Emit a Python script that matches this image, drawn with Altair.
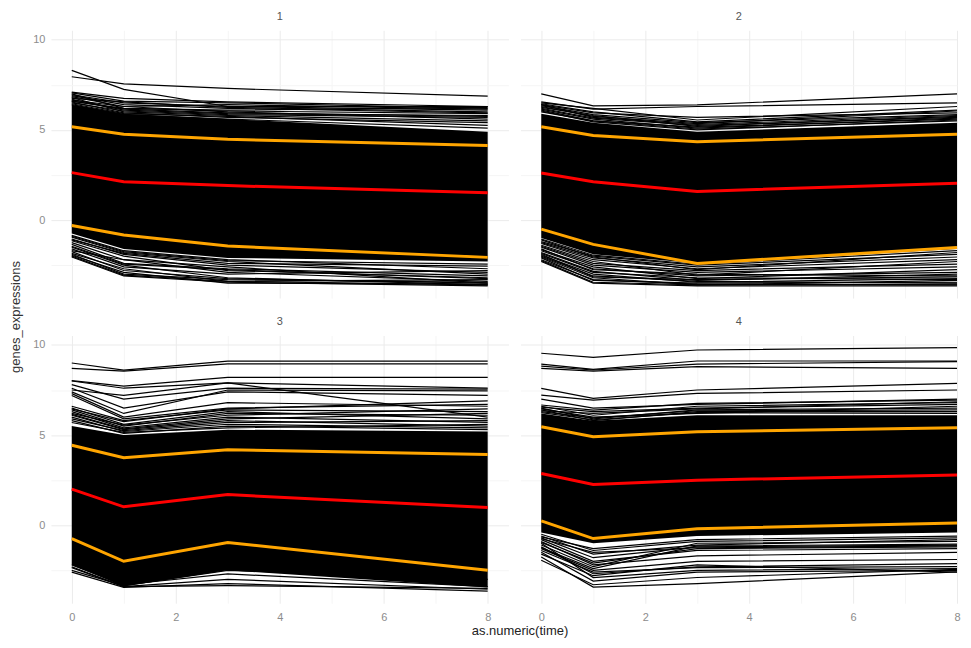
import altair as alt
import pandas as pd

times = [0, 1, 3, 8]

# ---- panel 1 ----
p1_mean = [2.63, 2.13, 1.91, 1.52]
p1_upper = [5.17, 4.76, 4.48, 4.13]
p1_lower = [-0.30, -0.83, -1.44, -2.07]
p1_core_hi = [6.4, 5.9, 5.6, 4.9]
p1_core_lo = [-0.75, -1.6, -2.1, -2.3]
p1_genes = [
    [8.3, 7.25, 6.3, 6.3], [7.95, 7.55, 7.3, 6.87],
    [7.1, 6.75, 6.55, 6.3], [7.05, 6.6, 6.5, 6.2], [7.0, 6.2, 6.1, 6.25],
    [6.95, 6.5, 6.3, 6.1], [6.9, 6.4, 6.2, 5.95], [6.85, 6.3, 6.4, 6.15],
    [6.8, 6.0, 5.8, 5.5], [6.75, 6.55, 6.25, 6.0], [6.7, 6.1, 5.9, 5.8],
    [6.65, 6.3, 6.0, 5.6], [6.6, 6.2, 6.05, 5.9], [6.55, 5.95, 5.7, 5.4],
    [6.5, 6.05, 5.85, 5.7], [6.45, 5.9, 5.75, 5.25], [6.4, 5.85, 5.6, 5.1],
    [6.6, 6.15, 5.95, 5.75],
    [-2.05, -3.1, -3.45, -3.65], [-2.0, -3.05, -3.4, -3.6], [-1.95, -2.9, -3.5, -3.55],
    [-1.9, -3.0, -3.3, -3.45], [-1.85, -2.7, -3.4, -3.3], [-1.75, -2.8, -3.25, -3.5],
    [-1.7, -2.2, -2.9, -3.4], [-1.6, -2.6, -3.0, -2.8], [-1.5, -2.5, -3.2, -3.6],
    [-1.45, -2.45, -2.75, -3.25], [-1.35, -2.4, -2.7, -3.1], [-1.25, -2.2, -2.6, -3.5],
    [-1.15, -2.0, -2.8, -3.2], [-1.05, -1.9, -2.5, -2.9], [-0.95, -1.8, -2.3, -3.0],
    [-0.85, -1.7, -2.2, -2.7], [-1.1, -1.85, -2.4, -2.55], [-0.9, -1.75, -2.25, -2.45],
]

# ---- panel 2 ----
p2_mean = [2.61, 2.13, 1.59, 2.04]
p2_upper = [5.17, 4.69, 4.35, 4.76]
p2_lower = [-0.5, -1.35, -2.41, -1.52]
p2_core_hi = [5.9, 5.4, 4.9, 5.4]
p2_core_lo = [-1.0, -1.9, -2.4, -1.6]
p2_genes = [
    [7.0, 6.33, 6.39, 7.0], [6.55, 6.15, 6.3, 6.5], [6.5, 6.2, 5.55, 6.3],
    [6.45, 6.0, 5.45, 6.1], [6.4, 5.95, 5.7, 5.95], [6.35, 5.85, 5.4, 5.85],
    [6.3, 5.75, 5.35, 6.05], [6.25, 5.8, 5.2, 5.75], [6.2, 5.65, 5.25, 5.7],
    [6.15, 5.6, 5.1, 5.65], [6.1, 5.5, 5.15, 5.6], [6.05, 5.45, 5.0, 5.55],
    [6.0, 5.5, 5.05, 5.5], [6.4, 5.7, 5.3, 5.8],
    [-2.3, -3.5, -3.65, -3.65], [-2.25, -3.45, -3.6, -3.55], [-2.2, -3.3, -3.55, -3.6],
    [-2.1, -3.35, -3.5, -3.45], [-2.05, -3.2, -3.6, -3.35], [-2.0, -3.1, -3.4, -3.5],
    [-1.95, -3.0, -3.45, -3.25], [-1.9, -3.15, -3.3, -3.15], [-1.85, -2.9, -3.2, -3.3],
    [-1.8, -2.85, -3.35, -3.0], [-1.7, -2.7, -3.1, -2.9], [-1.65, -2.6, -3.25, -2.75],
    [-1.6, -2.75, -3.0, -3.1], [-1.5, -2.5, -2.9, -2.6], [-1.45, -2.4, -2.8, -2.45],
    [-1.4, -2.3, -3.05, -2.3], [-1.3, -2.2, -2.7, -2.2], [-1.25, -2.1, -2.6, -2.05],
    [-1.2, -2.0, -2.5, -1.9], [-1.1, -2.05, -2.75, -1.8], [-1.05, -1.95, -2.45, -1.7],
]

# ---- panel 3 ----
p3_mean = [2.0, 1.02, 1.7, 0.98]
p3_upper = [4.44, 3.74, 4.19, 3.93]
p3_lower = [-0.74, -2.0, -0.96, -2.5]
p3_core_hi = [5.5, 5.0, 5.3, 5.2]
p3_core_lo = [-2.2, -3.4, -2.5, -3.45]
p3_genes = [
    [9.0, 8.6, 9.1, 9.1], [8.7, 8.55, 8.95, 8.95], [8.02, 7.72, 8.2, 8.2],
    [8.0, 7.6, 7.9, 7.6], [7.8, 7.0, 7.6, 7.55], [7.5, 7.2, 7.9, 6.0],
    [7.6, 6.5, 7.4, 7.2], [7.3, 6.0, 6.8, 6.6], [7.2, 5.9, 6.5, 6.7],
    [7.4, 6.2, 7.5, 7.45], [6.6, 5.8, 6.4, 6.3], [6.5, 5.6, 6.3, 5.9],
    [6.45, 5.75, 6.45, 6.9], [6.4, 5.5, 6.2, 6.1], [6.3, 5.4, 6.0, 5.7],
    [6.2, 5.55, 6.1, 6.45], [6.1, 5.3, 5.8, 5.5], [6.0, 5.2, 5.6, 5.4],
    [5.9, 5.25, 5.7, 5.8], [5.8, 5.1, 5.5, 5.3], [5.7, 5.15, 5.4, 5.6],
    [6.15, 5.35, 5.9, 6.2],
    [-2.6, -3.45, -3.24, -3.65], [-2.3, -3.4, -3.0, -3.55], [-2.2, -3.3, -2.7, -3.4],
    [-2.5, -3.35, -2.5, -3.0], [-2.35, -3.4, -3.35, -3.5],
]

# ---- panel 4 ----
p4_mean = [2.87, 2.26, 2.5, 2.78]
p4_upper = [5.46, 4.91, 5.19, 5.41]
p4_lower = [0.24, -0.74, -0.19, 0.13]
p4_core_hi = [6.2, 5.8, 6.1, 6.1]
p4_core_lo = [-0.4, -1.0, -0.6, -0.4]
p4_genes = [
    [9.54, 9.31, 9.72, 9.85], [8.94, 8.65, 9.11, 9.11], [8.83, 8.61, 8.94, 9.07],
    [8.7, 8.55, 8.8, 8.7], [7.59, 7.04, 7.5, 7.87], [7.22, 6.94, 7.31, 7.5],
    [7.0, 6.5, 6.7, 7.0], [6.67, 6.39, 6.76, 6.94], [6.6, 6.1, 6.6, 6.8],
    [6.55, 6.3, 6.5, 6.7], [6.5, 5.9, 6.4, 6.5], [6.45, 6.0, 6.2, 6.6],
    [6.4, 5.8, 6.3, 6.3], [6.35, 6.2, 6.45, 6.85], [6.3, 5.95, 6.35, 6.4],
    [6.25, 5.85, 6.25, 6.2],
    [-1.76, -3.43, -3.24, -2.59], [-1.94, -3.3, -2.9, -2.45], [-1.2, -2.69, -2.31, -2.13],
    [-1.5, -3.1, -2.6, -2.5], [-1.0, -2.9, -2.5, -2.4], [-1.3, -2.5, -2.0, -1.9],
    [-0.9, -2.2, -1.7, -1.5], [-0.8, -2.0, -1.4, -1.3], [-0.7, -1.8, -1.2, -1.1],
    [-1.1, -2.3, -1.0, -0.9], [-0.6, -1.6, -1.1, -0.8], [-0.5, -1.4, -0.9, -0.7],
    [-1.6, -2.8, -2.2, -2.6], [-1.4, -2.6, -2.35, -2.3], [-0.95, -2.1, -1.3, -1.2],
    [-0.75, -1.5, -1.25, -1.15], [-0.65, -1.3, -0.8, -0.6], [-1.25, -2.4, -1.15, -1.05],
]

FONT = "Liberation Sans"
H = 268
W_LEFT, W_RIGHT = 458, 437
X_DOMAIN_LEFT = [-0.4, 8.4]
X_DOMAIN_RIGHT = [-0.4, 8.0]
Y_DOMAIN = [-4.325, 10.525]

GRID_X = {"condition": {"test": "datum.value % 2 === 0", "value": "#ebebeb"}, "value": "#f5f5f5"}
GRID_Y = {"condition": {"test": "datum.value % 5 === 0", "value": "#ebebeb"}, "value": "#f5f5f5"}


def x_axis(labels, with_title):
    kw = dict(
        values=[0, 1, 2, 3, 4, 5, 6, 7, 8], labels=labels,
        labelExpr="datum.value % 2 === 0 ? format(datum.value, 'd') : ''",
        domain=False, ticks=False, tickSize=0, grid=True, gridColor=GRID_X, gridWidth=1,
        labelColor="#8c8c8c", labelFontSize=11, labelFont=FONT, labelPadding=8,
        labelFlush=False, labelOverlap=False,
    )
    if with_title:
        kw.update(title="as.numeric(time)", titleX=469, titleY=27, titleBaseline="middle",
                  titleAlign="center", titleFontSize=13, titleFontWeight="normal",
                  titleColor="#222222", titleFont=FONT)
    else:
        kw["title"] = None
    return alt.Axis(**kw)


def y_axis(labels, with_title):
    kw = dict(
        values=[-2.5, 0, 2.5, 5, 7.5, 10], labels=labels,
        labelExpr="datum.value % 5 === 0 ? format(datum.value, 'd') : ''",
        domain=False, ticks=False, tickSize=0, grid=True, gridColor=GRID_Y, gridWidth=1,
        labelColor="#8c8c8c", labelFontSize=11, labelFont=FONT, labelPadding=6,
        labelFlush=False, labelOverlap=False,
    )
    if with_title:
        kw.update(title="genes_expressions", titleX=-35, titleY=286.5, titleBaseline="middle",
                  titleAlign="center", titleAngle=270, titleFontSize=13, titleFontWeight="normal",
                  titleColor="#333333", titleFont=FONT)
    else:
        kw["title"] = None
    return alt.Axis(**kw)


def panel(label, mean, upper, lower, core_lo, core_hi, genes, show_x, show_y, x_title, y_title, left):
    xs = alt.Scale(domain=X_DOMAIN_LEFT if left else X_DOMAIN_RIGHT, nice=False, zero=False)
    ys = alt.Scale(domain=Y_DOMAIN, nice=False, zero=False)
    xa = x_axis(show_x, x_title)
    ya = y_axis(show_y, y_title)

    core_df = pd.DataFrame({"time": times, "lo": core_lo, "hi": core_hi})
    gene_rows = []
    for g, vals in enumerate(genes):
        for t, v in zip(times, vals):
            gene_rows.append({"gene": g, "time": t, "value": v})
    gene_df = pd.DataFrame(gene_rows)
    sd_rows = []
    for name, vals in (("upper", upper), ("lower", lower)):
        for t, v in zip(times, vals):
            sd_rows.append({"stat": name, "time": t, "value": v})
    sd_df = pd.DataFrame(sd_rows)
    mean_df = pd.DataFrame({"time": times, "value": mean})

    x_enc = alt.X("time:Q", scale=xs, axis=xa)
    core = alt.Chart(core_df).mark_area(color="black", opacity=1).encode(
        x=x_enc, y=alt.Y("lo:Q", scale=ys, axis=ya), y2="hi:Q",
    )
    lines = alt.Chart(gene_df).mark_line(color="black", strokeWidth=1.2).encode(
        x=x_enc, y=alt.Y("value:Q", scale=ys, axis=ya), detail="gene:N",
    )
    sd = alt.Chart(sd_df).mark_line(color="#FFA500", strokeWidth=3).encode(
        x=x_enc, y=alt.Y("value:Q", scale=ys, axis=ya), detail="stat:N",
    )
    mn = alt.Chart(mean_df).mark_line(color="#FF0000", strokeWidth=3).encode(
        x=x_enc, y=alt.Y("value:Q", scale=ys, axis=ya),
    )
    return alt.layer(core, lines, sd, mn).properties(
        width=W_LEFT if left else W_RIGHT, height=H,
        title=alt.TitleParams(text=label, fontSize=11, color="#555555", fontWeight="normal",
                              font=FONT, anchor="middle", offset=8),
    )


c1 = panel("1", p1_mean, p1_upper, p1_lower, p1_core_lo, p1_core_hi, p1_genes, False, True, False, True, True)
c2 = panel("2", p2_mean, p2_upper, p2_lower, p2_core_lo, p2_core_hi, p2_genes, False, False, False, False, False)
c3 = panel("3", p3_mean, p3_upper, p3_lower, p3_core_lo, p3_core_hi, p3_genes, True, True, True, False, True)
c4 = panel("4", p4_mean, p4_upper, p4_lower, p4_core_lo, p4_core_hi, p4_genes, True, False, False, False, False)

chart = alt.concat(
    c1, c2, c3, c4, columns=2,
    spacing={"row": 37.5, "column": 12},
    bounds="flush",
    padding={"left": 2, "top": 3, "right": 0, "bottom": 0},
    background="white",
).configure_view(stroke=None)

chart.save("out.html", embed_options={"renderer": "svg", "actions": False})
